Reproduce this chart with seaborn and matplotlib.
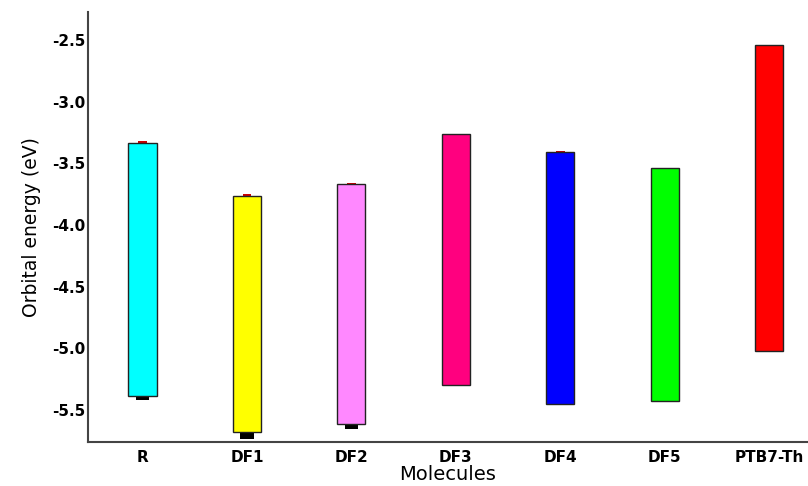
"""Frontier orbital energies (HOMO/LUMO) of the studied molecules."""

import matplotlib

matplotlib.use("Agg")

import matplotlib.pyplot as plt
import numpy as np
import seaborn as sns

MOLECULES = ["R", "DF1", "DF2", "DF3", "DF4", "DF5", "PTB7-Th"]
LUMO = [-3.33, -3.76, -3.67, -3.26, -3.41, -3.54, -2.54]
HOMO = [-5.39, -5.68, -5.61, -5.30, -5.45, -5.43, -5.02]
# small deviations shown as stubs below / above the bars
HOMO_ERR = [0.03, 0.055, 0.045, 0.0, 0.01, 0.005, 0.0]
LUMO_ERR = [0.01, 0.01, 0.01, 0.0, 0.01, 0.0, 0.0]
COLORS = ["#00FFFF", "#FFFF00", "#FF88FF", "#FF007F", "#0000FF", "#00FF00", "#FF0000"]

sns.set_style("white")
plt.rcParams["font.family"] = ["DejaVu Sans"]
plt.rcParams["axes.unicode_minus"] = False
plt.rcParams["text.color"] = "black"
plt.rcParams["axes.labelcolor"] = "black"

fig = plt.figure(figsize=(8.08, 4.86), dpi=100)
ax = fig.add_axes([0.109, 0.0905, 0.891, 0.885])

homo = np.array(HOMO)
lumo = np.array(LUMO)

# black stubs under the HOMO end
sns.barplot(
    x=MOLECULES, y=HOMO_ERR, bottom=homo - np.array(HOMO_ERR),
    width=0.13, color="black", saturation=1, errorbar=None, linewidth=0, ax=ax,
)
# red stubs over the LUMO end
sns.barplot(
    x=MOLECULES, y=LUMO_ERR, bottom=lumo,
    width=0.08, color="#CC0000", saturation=1, errorbar=None, linewidth=0, ax=ax,
)
n_stubs = len(ax.patches)

# floating bars from HOMO to LUMO
sns.barplot(
    x=MOLECULES, y=lumo - homo, bottom=homo,
    width=0.27, color="white", saturation=1, errorbar=None,
    edgecolor="#222222", linewidth=1.0, ax=ax,
)
for patch, color in zip(ax.patches[n_stubs:], COLORS):
    patch.set_facecolor(color)
    patch.set_zorder(2)

ax.set_xlim(-0.52, 6.37)
ax.set_ylim(-5.76, -2.27)
ax.set_yticks([-5.5, -5.0, -4.5, -4.0, -3.5, -3.0, -2.5])
ax.set_yticklabels([f"{v:.1f}" for v in ax.get_yticks()])

for side in ["top", "right"]:
    ax.spines[side].set_visible(False)
for side in ["left", "bottom"]:
    ax.spines[side].set_color("#444444")
    ax.spines[side].set_linewidth(1.5)

ax.tick_params(axis="both", length=0, labelsize=11, colors="black")
ax.tick_params(axis="y", pad=2)
ax.tick_params(axis="x", pad=6)
for label in ax.get_xticklabels() + ax.get_yticklabels():
    label.set_fontweight("bold")

ax.set_xlabel("Molecules", fontsize=14, labelpad=0)
ax.set_ylabel("Orbital energy (eV)", fontsize=13.5, labelpad=8)

fig.savefig("out.png", dpi=100)
